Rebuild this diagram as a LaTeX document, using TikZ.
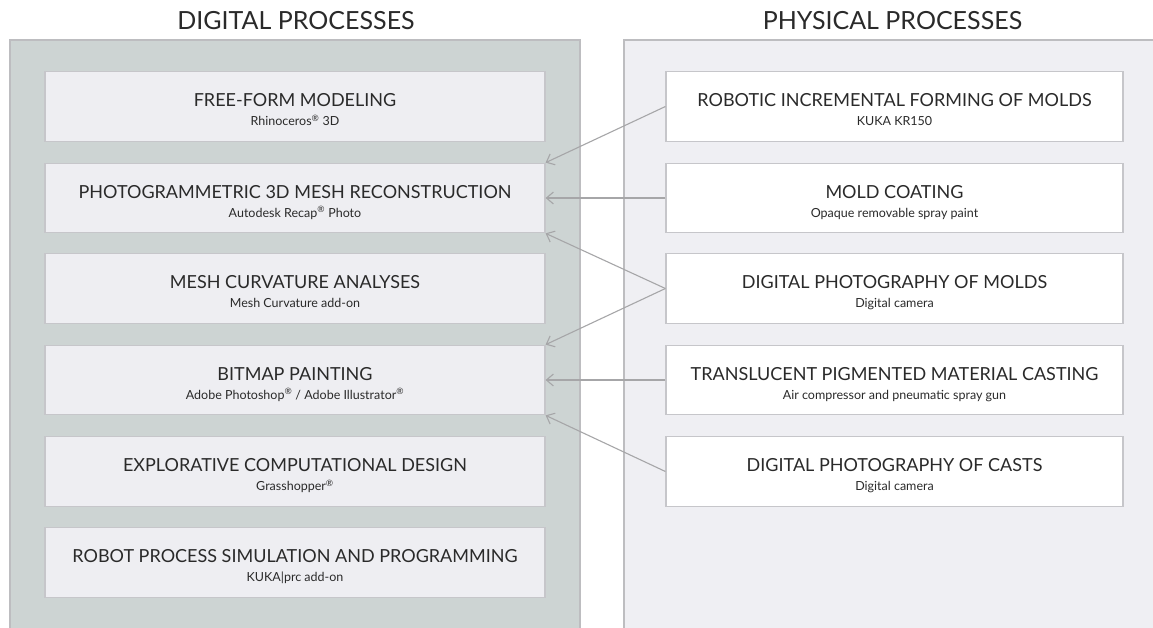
\documentclass[tikz,border=0pt]{standalone}
\usepackage{fontspec}
\setmainfont{Lato}
\usetikzlibrary{arrows.meta}
\definecolor{leftpanel}{HTML}{CDD4D3}
\definecolor{rightpanel}{HTML}{EFEFF3}
\definecolor{leftbox}{HTML}{EEEEF2}
\definecolor{boxborder}{HTML}{C6C6CA}
\definecolor{panelborder}{HTML}{BDBDC0}
\definecolor{arrowgray}{HTML}{A6A6A8}
\definecolor{txt}{HTML}{2A2A2A}
\newcommand{\regmark}{\textsuperscript{®}}
\tikzset{
  panel/.style={draw=panelborder, line width=1.4pt},
  lbox/.style={draw=boxborder, fill=leftbox, line width=1.2pt, minimum width=500pt, minimum height=69.5pt, inner sep=0pt},
  rbox/.style={draw=boxborder, fill=white, line width=1.2pt, minimum width=457pt, minimum height=69.5pt, inner sep=0pt},
  heading/.style={anchor=base, text=txt, font=\fontsize{25}{30}\selectfont},
  boxtitle/.style={anchor=base, text=txt, font=\fontsize{18}{22}\selectfont},
  boxsub/.style={anchor=base, text=txt, font=\fontsize{12.5}{15}\selectfont},
  arr/.style={draw=arrowgray, line width=1.1pt, -{Straight Barb[length=7pt,width=12pt,line width=1.1pt]}}
}
\begin{document}
\begin{tikzpicture}[x=1pt,y=-1pt]
\useasboundingbox (0,0) rectangle (1153,627);
\fill[white] (0,0) rectangle (1153,627);
\begin{scope}
\clip (0,0) rectangle (1153,627);
\draw[panel, fill=leftpanel] (10,40) rectangle (580,640);
\draw[panel, fill=rightpanel] (624,40) rectangle (1170,640);
\end{scope}
% headings
\node[heading] (hd) at (296,29.3) {DIGITAL PROCESSES};
\node[heading] (hp) at (892.5,29.3) {PHYSICAL PROCESSES};
% left boxes
\node[lbox] (l1) at (295,106.5) {};
\node[lbox] (l2) at (295,198) {};
\node[lbox] (l3) at (295,288.5) {};
\node[lbox] (l4) at (295,380) {};
\node[lbox] (l5) at (295,471.5) {};
\node[lbox] (l6) at (295,562.5) {};
% right boxes
\node[rbox] (r1) at (894.5,106.5) {};
\node[rbox] (r2) at (894.5,198) {};
\node[rbox] (r3) at (894.5,288.5) {};
\node[rbox] (r4) at (894.5,380) {};
\node[rbox] (r5) at (894.5,471.5) {};
% left texts
\node[boxtitle] (l1t) at (l1.center) {FREE-FORM MODELING};
\node[boxsub] (l1s) at ([yshift=-19pt]l1.center) {Rhinoceros\regmark{} 3D};
\node[boxtitle] (l2t) at (l2.center) {PHOTOGRAMMETRIC 3D MESH RECONSTRUCTION};
\node[boxsub] (l2s) at ([yshift=-19pt]l2.center) {Autodesk Recap\regmark{} Photo};
\node[boxtitle] (l3t) at (l3.center) {MESH CURVATURE ANALYSES};
\node[boxsub] (l3s) at ([yshift=-19pt]l3.center) {Mesh Curvature add-on};
\node[boxtitle] (l4t) at (l4.center) {BITMAP PAINTING};
\node[boxsub] (l4s) at ([yshift=-19pt]l4.center) {Adobe Photoshop\regmark{} / Adobe Illustrator\regmark};
\node[boxtitle] (l5t) at (l5.center) {EXPLORATIVE COMPUTATIONAL DESIGN};
\node[boxsub] (l5s) at ([yshift=-19pt]l5.center) {Grasshopper\regmark};
\node[boxtitle] (l6t) at (l6.center) {ROBOT PROCESS SIMULATION AND PROGRAMMING};
\node[boxsub] (l6s) at ([yshift=-19pt]l6.center) {KUKA|prc add-on};
% right texts
\node[boxtitle] (r1t) at (r1.center) {ROBOTIC INCREMENTAL FORMING OF MOLDS};
\node[boxsub] (r1s) at ([yshift=-19pt]r1.center) {KUKA KR150};
\node[boxtitle] (r2t) at (r2.center) {MOLD COATING};
\node[boxsub] (r2s) at ([yshift=-19pt]r2.center) {Opaque removable spray paint};
\node[boxtitle] (r3t) at (r3.center) {DIGITAL PHOTOGRAPHY OF MOLDS};
\node[boxsub] (r3s) at ([yshift=-19pt]r3.center) {Digital camera};
\node[boxtitle] (r4t) at (r4.center) {TRANSLUCENT PIGMENTED MATERIAL CASTING};
\node[boxsub] (r4s) at ([yshift=-19pt]r4.center) {Air compressor and pneumatic spray gun};
\node[boxtitle] (r5t) at (r5.center) {DIGITAL PHOTOGRAPHY OF CASTS};
\node[boxsub] (r5s) at ([yshift=-19pt]r5.center) {Digital camera};
% connectors
\draw[arr] (r1.west) -- (l2.north east);
\draw[arr] (r2.west) -- (l2.east);
\draw[arr] (r3.west) -- (l2.south east);
\draw[arr] (r3.west) -- (l4.north east);
\draw[arr] (r4.west) -- (l4.east);
\draw[arr] (r5.west) -- (l4.south east);
\end{tikzpicture}
\end{document}
